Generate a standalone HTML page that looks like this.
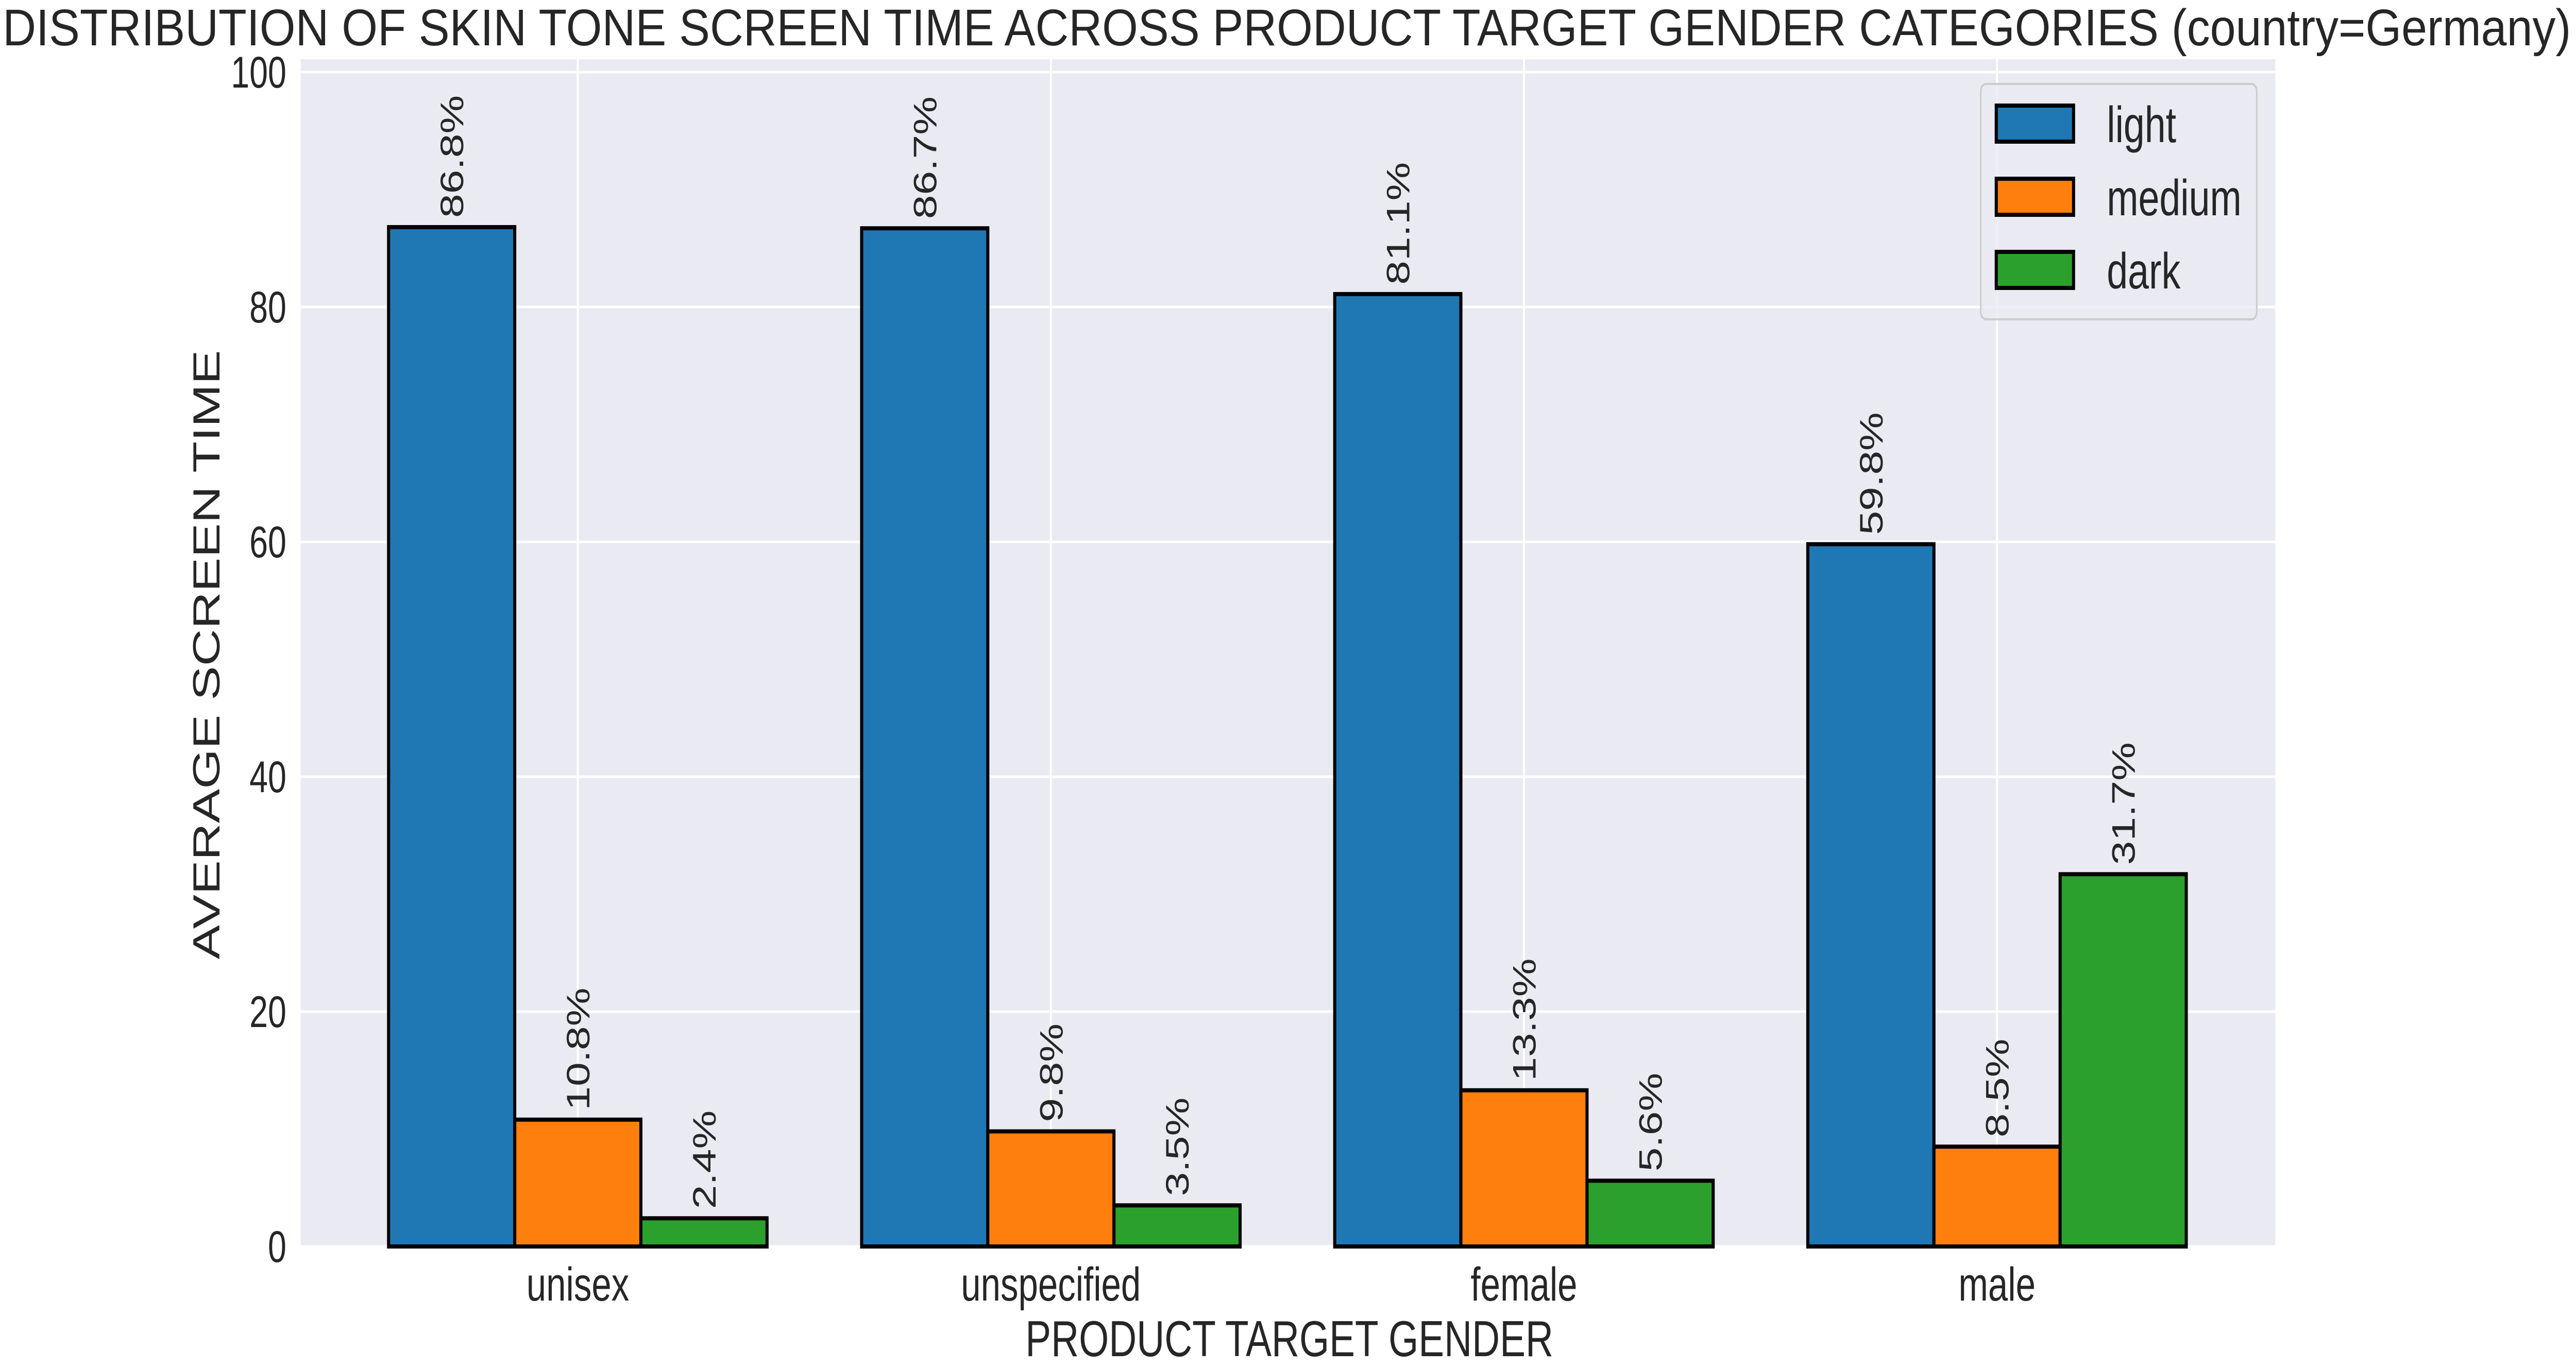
<!DOCTYPE html>
<html><head><meta charset="utf-8"><style>
html,body{margin:0;padding:0;background:#fff;width:100%;height:100%;overflow:hidden}
svg{display:block;font-family:"Liberation Sans",Arial,sans-serif;overflow:hidden;width:100vw;height:100vh}
</style></head><body>
<svg id="chart" viewBox="0 0 6665 2654" preserveAspectRatio="none" xmlns="http://www.w3.org/2000/svg">
<rect x="0" y="0" width="6665" height="2654" fill="#fff"/>
<text x="7" y="88" font-size="100" fill="#262626" textLength="6645" lengthAdjust="spacingAndGlyphs">DISTRIBUTION OF SKIN TONE SCREEN TIME ACROSS PRODUCT TARGET GENDER CATEGORIES (country=Germany)</text>
<rect x="778" y="115" width="5109" height="2305" fill="#eaeaf2"/>
<g id="grid"></g>
<g id="bars"></g>
<g id="labels"></g>
<g id="ticks"></g>
<text transform="translate(568,1271) rotate(-90)" text-anchor="middle" font-size="98" fill="#262626" textLength="1183" lengthAdjust="spacingAndGlyphs">AVERAGE SCREEN TIME</text>
<text x="3336" y="2633" text-anchor="middle" font-size="98" fill="#262626" textLength="1366" lengthAdjust="spacingAndGlyphs">PRODUCT TARGET GENDER</text>
<g>
<rect x="5125" y="163" width="714" height="457" rx="14" fill="#eaeaf2" fill-opacity="0.8" stroke="#cccccc" stroke-width="4"/>
<g><rect x="5165" y="205" width="200" height="70" fill="#1f77b4" stroke="#000" stroke-width="8"/><text x="5451" y="276" font-size="98" fill="#262626">light</text></g>
<g><rect x="5165" y="347" width="200" height="70" fill="#ff7f0e" stroke="#000" stroke-width="8"/><text x="5451" y="418" font-size="98" fill="#262626">medium</text></g>
<g><rect x="5165" y="489" width="200" height="70" fill="#2ca02c" stroke="#000" stroke-width="8"/><text x="5451" y="560" font-size="98" fill="#262626">dark</text></g>
</g>
</svg>
<script>
const categories = ["unisex", "unspecified", "female", "male"];
const seriesNames = ["light", "medium", "dark"];
const lightValues = [86.8, 86.7, 81.1, 59.8];
const mediumValues = [10.8, 9.8, 13.3, 8.5];
const darkValues = [2.4, 3.5, 5.6, 31.7];
const yTicks = [0, 20, 40, 60, 80, 100];
const colors = ["#1f77b4", "#ff7f0e", "#2ca02c"];

const NS = "http://www.w3.org/2000/svg";
const plotL = 778, plotR = 5887, plotB = 2420;
const pxPerUnit = 22.8;
function y(v){ return plotB - v * pxPerUnit; }
const step = 1224;
function xc(i){ return 1495 + i * step; }
const barW = step * 0.8 / 3;
function mk(tag, attrs, parent){ const e = document.createElementNS(NS, tag); for (const k in attrs) e.setAttribute(k, attrs[k]); parent.appendChild(e); return e; }

const grid = document.getElementById('grid');
const ticks = document.getElementById('ticks');
yTicks.forEach(t => {
  const l = mk('line', {x1: plotL, x2: plotR, y1: y(t), y2: y(t), stroke: '#fff', 'stroke-width': 5}, grid);
  
  
  const tx = mk('text', {x: 741, y: y(t) + 30, 'text-anchor': 'end', 'font-size': 86, fill: '#262626'}, ticks);
  tx.textContent = t;
  
  
});
categories.forEach((c, i) => {
  const l = mk('line', {x1: xc(i), x2: xc(i), y1: 115, y2: plotB, stroke: '#fff', 'stroke-width': 5}, grid);
  
  
  const tx = mk('text', {x: xc(i), y: 2525, 'text-anchor': 'middle', 'font-size': 92, fill: '#262626'}, ticks);
  tx.textContent = c;
  
  
});

const bars = document.getElementById('bars');
const labels = document.getElementById('labels');
[lightValues, mediumValues, darkValues].forEach((vals, s) => {
  vals.forEach((v, i) => {
    const x0 = xc(i) + (s - 1.5) * barW;
    const r = mk('rect', {x: x0, y: y(v), width: barW, height: v * pxPerUnit, fill: colors[s], stroke: '#000', 'stroke-width': 8}, bars);
    
    
    const cx = x0 + barW / 2;
    const ly = y(v) - 18;
    const t = mk('text', {transform: 'translate(' + (cx + 30) + ',' + ly + ') rotate(-90)', 'font-size': 84, fill: '#262626'}, labels);
    t.textContent = v.toFixed(1) + '%';
    
    
  });
});
</script>
</body></html>
